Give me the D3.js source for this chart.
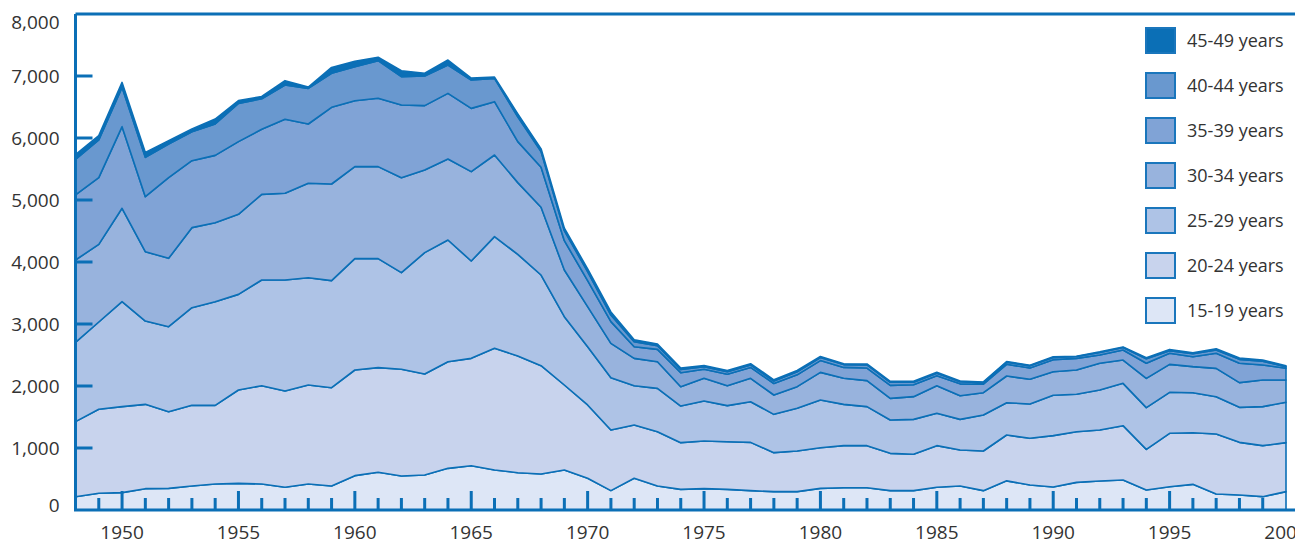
<!DOCTYPE html>
<html>
<head>
<meta charset="utf-8">
<script src="https://cdn.jsdelivr.net/npm/d3@7"></script>
<style>
  body { margin: 0; background: #fff; }
  svg { display: block; }
  text { font-family: "Open Sans", sans-serif; fill: #333; }
</style>
</head>
<body>
<svg id="chart"></svg>
<script>
// data
const years = [1948,1949,1950,1951,1952,1953,1954,1955,1956,1957,1958,1959,1960,1961,1962,1963,1964,1965,1966,1967,
  1968,1969,1970,1971,1972,1973,1974,1975,1976,1977,1978,1979,1980,1981,1982,1983,1984,1985,1986,1987,
  1988,1989,1990,1991,1992,1993,1994,1995,1996,1997,1998,1999,2000];

const age15_19 = [215,269,280,344,349,387,419,430,419,366,419,387,554,608,548,565,672,715,645,602,
  581,645,511,312,511,387,333,344,333,312,296,296,349,360,360,312,312,366,387,312,
  470,403,370,446,468,484,323,376,414,258,242,215,296];
const age20_24 = [1210,1355,1387,1360,1237,1301,1269,1505,1586,1553,1597,1586,1704,1688,1721,1629,1720,1731,1963,1882,
  1747,1371,1183,978,860,876,753,769,769,779,629,656,656,678,678,602,586,672,581,640,
  740,753,830,817,822,876,655,861,833,968,849,823,790];
const age25_29 = [1279,1408,1693,1344,1371,1575,1672,1543,1705,1791,1731,1726,1796,1758,1559,1957,1963,1570,1801,1640,
  1462,1102,940,844,634,699,591,645,581,656,618,688,769,666,629,538,564,521,494,580,
  521,554,650,603,645,683,673,661,645,602,565,629,651];
const age30_34 = [1328,1253,1506,1119,1102,1291,1274,1291,1381,1398,1522,1559,1484,1484,1532,1333,1306,1441,1317,1156,
  1092,753,646,554,441,430,312,366,322,377,312,349,446,420,419,349,366,446,382,360,
  430,398,381,392,431,376,473,451,420,457,398,430,360];
const age35_39 = [1049,1075,1317,887,1301,1080,1086,1172,1049,1193,957,1237,1064,1102,1172,1038,1059,1021,860,661,
  645,473,419,350,188,199,226,146,185,176,185,191,190,176,204,209,192,160,191,138,
  189,182,194,187,134,162,242,178,161,242,312,242,188];
const age40_44 = [575,608,634,634,543,468,506,618,494,554,575,548,549,607,457,478,457,457,376,399,
  253,161,145,107,80,60,50,40,40,40,40,50,50,45,50,50,40,40,35,25,
  35,35,35,30,40,39,74,43,47,53,64,61,25];
const age45_49 = [75,70,80,80,55,45,80,45,35,70,20,95,85,55,95,45,80,30,20,50,
  45,40,45,50,30,25,25,20,20,20,20,20,15,15,15,15,15,15,10,10,
  10,10,10,5,10,10,15,20,15,20,20,20,15];

const keys = ["15-19 years","20-24 years","25-29 years","30-34 years","35-39 years","40-44 years","45-49 years"];
const series = [age15_19, age20_24, age25_29, age30_34, age35_39, age40_44, age45_49];
const fills = ["#dde6f6","#c8d3ed","#aec3e6","#98b3dd","#80a3d6","#6998cf","#0b6fb6"];
const yTicks = [0,1000,2000,3000,4000,5000,6000,7000,8000];
const xLabels = [1950,1955,1960,1965,1970,1975,1980,1985,1990,1995,2000];

const blue = "#0b6fb6";

var margin = {top: 14, right: 0, bottom: 33, left: 75.5},
  width = 1295 - margin.left - margin.right,
  height = 543 - margin.top - margin.bottom;

var svg = d3.select("#chart")
  .attr("width", 1295)
  .attr("height", 543)
  .append("g")
  .attr("transform", "translate(" + margin.left + "," + margin.top + ")");

// table for the stack
const table = years.map((yr, i) => {
  const row = {year: yr};
  keys.forEach((k, j) => { row[k] = series[j][i]; });
  return row;
});

const x = d3.scaleLinear().domain([1948, 2000]).range([0, 1210.5]);
const y = d3.scaleLinear().domain([0, 8000]).range([height, 0]);
const color = d3.scaleOrdinal().domain(keys).range(fills);

const stacked = d3.stack().keys(keys)(table);

const area = d3.area()
  .x(d => x(d.data.year))
  .y0(d => y(d[0]))
  .y1(d => y(d[1]));

svg.selectAll(".layer")
  .data(stacked)
  .enter()
  .append("path")
    .attr("class", "layer")
    .attr("d", area)
    .attr("fill", d => color(d.key))
    .attr("stroke", blue)
    .attr("stroke-width", 1.6)
    .attr("stroke-linejoin", "round");

// frame: left axis, top line, bottom axis
svg.append("line")
  .attr("x1", 0).attr("x2", 0).attr("y1", 0).attr("y2", height)
  .attr("stroke", blue).attr("stroke-width", 3);
svg.append("line")
  .attr("x1", 0).attr("x2", width).attr("y1", 0).attr("y2", 0)
  .attr("stroke", blue).attr("stroke-width", 3);
svg.append("line")
  .attr("x1", -1.5).attr("x2", width).attr("y1", height).attr("y2", height)
  .attr("stroke", blue).attr("stroke-width", 3);

// y ticks inside the plot
svg.selectAll(".ytick")
  .data(yTicks.filter(v => v > 0 && v < 8000))
  .enter()
  .append("line")
    .attr("x1", 0).attr("x2", 17)
    .attr("y1", d => y(d)).attr("y2", d => y(d))
    .attr("stroke", blue).attr("stroke-width", 3);

svg.selectAll(".ylabel")
  .data(yTicks)
  .enter()
  .append("text")
    .attr("x", -16)
    .attr("y", d => Math.min(Math.max(y(d), 8), height - 5))
    .attr("dy", "0.35em")
    .attr("text-anchor", "end")
    .style("font-size", "19px")
    .text(d => d3.format(",")(d));

// x ticks pointing up
svg.selectAll(".xtick")
  .data(years.filter(yr => yr > 1948 && yr < 2000))
  .enter()
  .append("line")
    .attr("x1", d => x(d)).attr("x2", d => x(d))
    .attr("y1", height)
    .attr("y2", d => height - (d % 5 === 0 ? 19 : 12))
    .attr("stroke", blue).attr("stroke-width", 3);

svg.selectAll(".xlabel")
  .data(xLabels)
  .enter()
  .append("text")
    .attr("x", d => x(d))
    .attr("y", height + 28.5)
    .attr("text-anchor", "middle")
    .style("font-size", "19px")
    .text(d => d);

// legend, oldest group on top
const legend = svg.append("g")
  .attr("transform", "translate(" + (1145 - margin.left) + "," + (27 - margin.top) + ")");

const items = legend.selectAll(".item")
  .data(keys.slice().reverse())
  .enter()
  .append("g")
    .attr("transform", (d, i) => "translate(0," + (i * 45) + ")");

items.append("rect")
  .attr("x", 1).attr("y", 1)
  .attr("width", 29).attr("height", 25)
  .attr("fill", d => color(d))
  .attr("stroke", "#1a76bc")
  .attr("stroke-width", 2);

items.append("text")
  .attr("x", 42)
  .attr("y", 14)
  .attr("dy", "0.35em")
  .style("font-size", "18px")
  .text(d => d);
</script>
</body>
</html>
